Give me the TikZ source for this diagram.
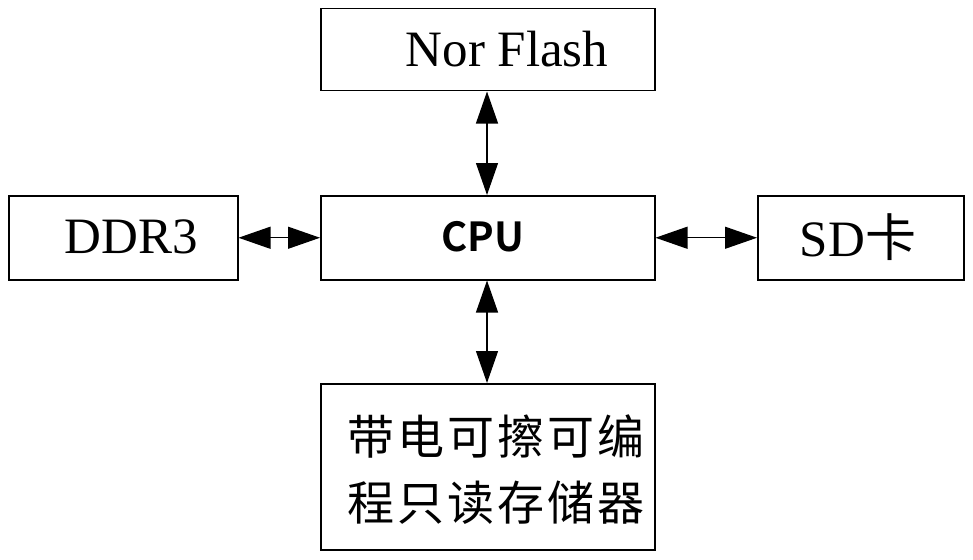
\documentclass[tikz,border=0pt]{standalone}
\usepackage{fontspec}
\setmainfont{Liberation Serif}
\newfontfamily\cjk{Noto Sans CJK SC}
\newfontfamily\cjkb{Noto Sans CJK SC Bold}
\usetikzlibrary{arrows.meta}
\newcommand{\gp}{\hspace{3pt}}
\tikzset{
  blk/.style={draw, line width=1.5pt, inner sep=0pt, anchor=north west},
  txt/.style={inner sep=0pt, font=\fontsize{51}{60}\selectfont},
  link/.style={line width=1.2pt, {Triangle[length=32pt,width=22pt]}-{Triangle[length=32pt,width=22pt]}}
}
\begin{document}
\begin{tikzpicture}[x=1pt,y=-1pt]
\useasboundingbox (0,0) rectangle (973,559);
\node[blk, minimum width=334pt, minimum height=82pt] (nor) at (320,8) {};
\node[blk, minimum width=334pt, minimum height=84pt] (cpu) at (320,195) {};
\node[blk, minimum width=229pt, minimum height=84pt] (ddr) at (8,195) {};
\node[blk, minimum width=206pt, minimum height=84pt] (sd) at (757,195) {};
\node[blk, minimum width=334pt, minimum height=166pt] (eep) at (320,383) {};
\node[txt] (nort) at (507,49) {Nor Flash};
\node[txt] (ddrt) at (131,237) {DDR3};
\node[txt] (sdt) at (858,237) {SD{\cjk 卡}};
\node[inner sep=0pt, font=\cjkb\fontsize{40}{48}\selectfont] (cput) at (483,237) {CPU};
\node[inner sep=0pt, font=\cjk\fontsize{47}{66}\selectfont, align=center] (eept) at (496,470) {带\gp 电\gp 可\gp 擦\gp 可\gp 编\\程\gp 只\gp 读\gp 存\gp 储\gp 器};
\draw[link] (nor.south -| 487,0) -- (cpu.north -| 487,0);
\draw[link] (cpu.south -| 487,0) -- (eep.north -| 487,0);
\draw[link] (ddr.east) -- (cpu.west);
\draw[link] (cpu.east) -- (sd.west);
\end{tikzpicture}
\end{document}
